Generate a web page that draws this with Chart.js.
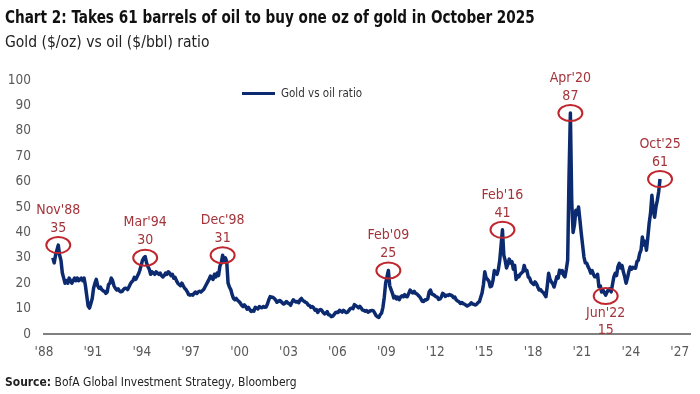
<!DOCTYPE html>
<html>
<head>
<meta charset="utf-8">
<script src="https://cdn.jsdelivr.net/npm/chart.js@4.4.1/dist/chart.umd.min.js"></script>
<style>
  html, body { margin:0; padding:0; background:#fff; }
  body { width:700px; height:394px; position:relative; overflow:hidden;
         font-family:'Liberation Sans Narrow','DejaVu Sans Condensed','Roboto',sans-serif; color:#1a1a1a; }
  #title { position:absolute; left:5px; top:7px; font-weight:bold; font-size:17px; white-space:nowrap;
           transform:scaleX(0.89); transform-origin:0 0; color:#111; }
  #sub { position:absolute; left:5px; top:33px; font-size:15.5px; white-space:nowrap; color:#222; }
  #legend { position:absolute; left:242px; top:86px; font-size:11.5px; color:#333; white-space:nowrap; display:flex; align-items:center; }
  #legend .sw { display:inline-block; width:33px; height:3px; background:#0b2a6f; margin-right:6px; }
  #source { position:absolute; left:5px; top:374px; font-size:13px; white-space:nowrap; color:#222;
            transform:scaleX(0.92); transform-origin:0 0; }
  #box { position:absolute; left:0; top:0; width:700px; height:394px; }
</style>
</head>
<body>
<div id="box"><canvas id="c"></canvas></div>
<div id="title">Chart 2: Takes 61 barrels of oil to buy one oz of gold in October 2025</div>
<div id="sub">Gold ($/oz) vs oil ($/bbl) ratio</div>
<div id="legend"><span class="sw"></span><span id="legtext"></span></div>
<div id="source"><b>Source:</b> BofA Global Investment Strategy, Bloomberg</div>
<script>
// ---- Data (monthly, first value = Jul 1988) ----
const seriesName = 'Gold vs oil ratio';
const startYear = 1988;
const startMonth = 7;
const ratio = [
  /*1988*/ 30, 28, 31, 33, 35, 31,
  /*1989*/ 29, 24, 22, 20, 21, 20, 22, 21, 20, 21, 22, 21,
  /*1990*/ 22, 21, 21.5, 22, 21, 22, 19, 15, 11, 10.2, 12, 14,
  /*1991*/ 18, 20, 21.5, 19, 18, 18.5, 17.5, 17, 16.8, 16, 16.5, 19.5,
  /*1992*/ 20, 22, 21, 19, 18, 17.3, 17.8, 17, 16.6, 16.8, 17.5, 18,
  /*1993*/ 18, 17.5, 18.5, 19.6, 20.5, 21, 22.3, 21.5, 22.5, 23.6, 25, 27,
  /*1994*/ 29, 30, 30.5, 28, 26.5, 25.5, 23.5, 24.5, 24, 23.5, 24.5, 24,
  /*1995*/ 23.5, 24, 23, 22.5, 23, 24, 23.5, 24.5, 24, 23, 23.5, 22,
  /*1996*/ 22.3, 21, 20, 19.5, 19, 20, 19, 18, 17.5, 16.6, 15.5, 15.3,
  /*1997*/ 15.5, 15.3, 16, 16.5, 16, 16.5, 16.8, 16.5, 17, 17.5, 18.5, 19.5,
  /*1998*/ 20.5, 21.5, 22.8, 22, 21.5, 23.5, 22.5, 24, 23, 26.7, 28, 31,
  /*1999*/ 29, 30, 28.6, 20, 18.5, 17.5, 15.5, 14, 13.5, 14, 13.3, 12.8,
  /*2000*/ 12.2, 11.3, 10.8, 11.5, 10.8, 9.8, 10.5, 9.6, 8.9, 9.2, 9, 10.5,
  /*2001*/ 10.2, 9.9, 10.8, 10.5, 10.3, 10.8, 10.5, 10.6, 11.8, 13.5, 14.7, 14.5,
  /*2002*/ 14.5, 14, 13.4, 12.5, 12.8, 13.2, 12.8, 12.2, 11.8, 12.2, 12.8, 12.2,
  /*2003*/ 12, 11.3, 12.5, 13.5, 12.9, 12.6, 12.8, 12.3, 13.5, 14, 13.2, 12.9,
  /*2004*/ 12.5, 12.2, 11.4, 11.2, 10.5, 10.8, 10.3, 9.4, 9.6, 8.5, 9.3, 9.6,
  /*2005*/ 9.3, 8.5, 7.9, 8.1, 8.8, 7.6, 7.5, 6.8, 7, 7.6, 8.4, 8.6,
  /*2006*/ 8.5, 9.3, 9, 8.6, 9.3, 8.8, 8.4, 8.6, 9.3, 10, 10.2, 10,
  /*2007*/ 11.6, 11.2, 10.8, 10.3, 10.9, 10.2, 9.4, 9.3, 9, 9.2, 8.6, 8.9,
  /*2008*/ 9.2, 9.3, 9.1, 8.2, 7.2, 6.8, 6.5, 7.6, 8.2, 10.5, 14.5, 20,
  /*2009*/ 22.5, 25, 19, 17.5, 16, 14.2, 14.8, 13.8, 14.5, 13.5, 14.6, 15,
  /*2010*/ 14.7, 15.5, 14.8, 14.7, 16, 17.3, 16.5, 16.2, 16.8, 16, 15.8, 15.2,
  /*2011*/ 14.7, 13.8, 12.9, 12.8, 13.5, 13.4, 13.8, 16.5, 17.3, 15.8, 15.5, 15.2,
  /*2012*/ 14.7, 14.5, 13.6, 13.8, 14.6, 16, 15.6, 14.8, 15.3, 15.2, 15.5, 15.3,
  /*2013*/ 15, 14.3, 14.5, 13.4, 13, 12.7, 12, 12.4, 12, 11.8, 11.4, 11,
  /*2014*/ 11.4, 11.6, 12.3, 11.8, 11.7, 11.4, 11.7, 12.4, 12.7, 14.5, 16.2, 19.5,
  /*2015*/ 24.5, 22, 21.5, 20.8, 18.6, 18.9, 21, 25, 24, 23.5, 25.5, 29,
  /*2016*/ 35, 41, 31, 29, 26, 27.5, 29.5, 28, 28.5, 25.5, 27, 21.5,
  /*2017*/ 23, 22.5, 23.5, 24, 24.5, 27, 25, 25, 22.5, 22, 20.5, 20,
  /*2018*/ 19.5, 20.5, 19.8, 18.5, 17.3, 17.5, 16.8, 16.4, 15.5, 14.7, 19, 23.9,
  /*2019*/ 21.5, 20.5, 19.8, 18.5, 20.5, 22.5, 22, 25.1, 24, 25, 23.2, 22.5,
  /*2020*/ 25.5, 29, 62, 87, 52, 40, 43, 48.7, 47, 50, 45, 39.7,
  /*2021*/ 35, 30.3, 28, 27.9, 26.5, 25.5, 24, 25, 23.5, 22.5, 22.5, 23.5,
  /*2022*/ 18.6, 19, 16.5, 17.3, 16.2, 15.3, 16.5, 17.5, 17.8, 16.6, 19.5, 22.5,
  /*2023*/ 23.9, 23, 26.5, 27.8, 26, 27, 24.5, 22.5, 20, 22, 24.5, 26.4,
  /*2024*/ 25.5, 26.3, 26, 25.9, 28.5, 29, 31.7, 33, 38.2, 35, 36.5, 33,
  /*2025*/ 38, 43.6, 47.5, 54.6, 49, 46, 50, 52.6, 56, 61
];

// Annotated points
const annLabels = ["Nov'88", "Mar'94", "Dec'98", "Feb'09", "Feb'16", "Apr'20", "Jun'22", "Oct'25"];
const annValues = [35, 30, 31, 25, 41, 87, 15, 61];
const annYears  = [1988, 1994, 1998, 2009, 2016, 2020, 2022, 2025];
const annMonths = [11, 3, 12, 2, 2, 4, 6, 10];
const annBelow  = [false, false, false, false, false, false, true, false];

// Axis ticks
const xTickYears  = [1988, 1991, 1994, 1997, 2000, 2003, 2006, 2009, 2012, 2015, 2018, 2021, 2024, 2027];
const xTickLabels = ["'88", "'91", "'94", "'97", "'00", "'03", "'06", "'09", "'12", "'15", "'18", "'21", "'24", "'27"];
const yTicks = [0, 10, 20, 30, 40, 50, 60, 70, 80, 90, 100];

// ---- Build ----
const toX = (y, m) => y + (m - 0.5) / 12;
const points = ratio.map((v, i) => {
  const mi = startMonth - 1 + i;
  return { x: toX(startYear + Math.floor(mi / 12), (mi % 12) + 1), y: v };
});

document.getElementById('legtext').textContent = seriesName;

const FONT = "'Liberation Sans Narrow','DejaVu Sans Condensed','Roboto',sans-serif";
const NAVY = '#0b2a6f';
const ANN_TEXT = '#a3343a';
const ANN_RING = '#c0262d';

const annPlugin = {
  id: 'annots',
  afterDatasetsDraw(chart) {
    const ctx = chart.ctx, xs = chart.scales.x, ys = chart.scales.y;
    ctx.save();
    annLabels.forEach((lab, i) => {
      const px = xs.getPixelForValue(toX(annYears[i], annMonths[i]));
      const py = ys.getPixelForValue(annValues[i]);
      ctx.beginPath();
      ctx.ellipse(px, py, 12, 8, 0, 0, Math.PI * 2);
      ctx.lineWidth = 2;
      ctx.strokeStyle = ANN_RING;
      ctx.stroke();
      ctx.fillStyle = ANN_TEXT;
      ctx.font = "14px " + FONT;
      ctx.textAlign = 'center';
      ctx.textBaseline = 'middle';
      if (annBelow[i]) {
        ctx.fillText(lab, px, py + 17);
        ctx.fillText(String(annValues[i]), px, py + 34);
      } else {
        ctx.fillText(String(annValues[i]), px, py - 17);
        ctx.fillText(lab, px, py - 35);
      }
    });
    ctx.restore();
  }
};

new Chart(document.getElementById('c'), {
  type: 'line',
  data: {
    datasets: [{
      label: seriesName,
      data: points,
      borderColor: NAVY,
      backgroundColor: NAVY,
      borderWidth: 3.5,
      pointRadius: 0,
      tension: 0,
      borderJoinStyle: 'round',
      fill: false
    }]
  },
  options: {
    responsive: true,
    maintainAspectRatio: false,
    animation: false,
    devicePixelRatio: 1,
    layout: { padding: { top: 80, left: 0, right: 10, bottom: 0 } },
    plugins: { legend: { display: false }, tooltip: { enabled: false } },
    scales: {
      x: {
        type: 'linear',
        min: 1988,
        max: 2027.63,
        afterFit: s => { s.height = 60; },
        afterBuildTicks: s => { s.ticks = xTickYears.map(v => ({ value: v })); },
        grid: { display: false, drawTicks: false },
        border: { display: true, color: '#808080', width: 2 },
        ticks: {
          autoSkip: false,
          maxRotation: 0,
          padding: 10,
          color: '#595959',
          font: { family: FONT, size: 13.5 },
          callback: (v) => { const k = xTickYears.indexOf(v); return k >= 0 ? xTickLabels[k] : ''; }
        }
      },
      y: {
        min: 0,
        max: 100,
        afterFit: s => { s.width = 44; },
        afterBuildTicks: s => { s.ticks = yTicks.map(v => ({ value: v })); },
        grid: { display: false, drawTicks: false },
        border: { display: false },
        ticks: {
          padding: 13,
          color: '#595959',
          font: { family: FONT, size: 13.5 }
        }
      }
    }
  },
  plugins: [annPlugin]
});
</script>
</body>
</html>
